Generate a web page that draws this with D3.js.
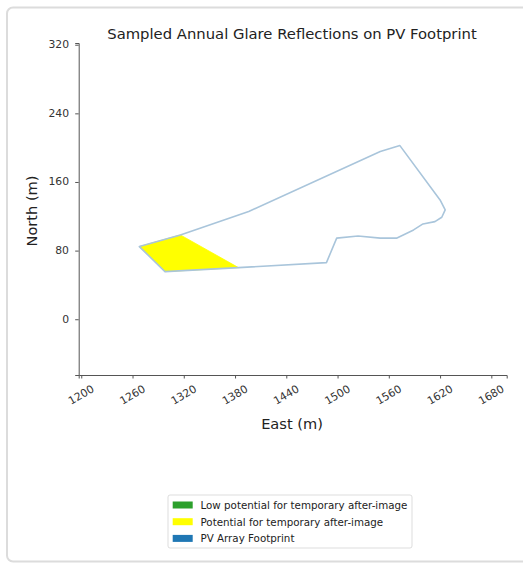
<!DOCTYPE html>
<html><head><meta charset="utf-8">
<script src="https://cdn.jsdelivr.net/npm/d3@7"></script>
<style>body{margin:0;background:#fff;font-family:"DejaVu Sans",sans-serif;}</style>
</head><body>
<svg id="c" width="523" height="563"></svg>
<script>
const footprintEast  = [1268,1316,1396,1550,1573,1620,1626,1622,1614,1600,1589,1569,1550,1524,1499,1487,1384,1298];
const footprintNorth = [84.7,98.3,125.5,195.5,202.4,139.1,127.5,118.9,113.8,111.1,104.1,94.5,94.5,97.1,94.5,66,60.2,55.5];
const glareEast  = [1268,1316,1384,1298];
const glareNorth = [84.7,98.3,60.2,55.5];
const xTicks = [1200,1260,1320,1380,1440,1500,1560,1620,1680];
const yTicks = [0,80,160,240,320];
const legendLabels = ["Low potential for temporary after-image","Potential for temporary after-image","PV Array Footprint"];
const legendColors = ["#2ca02c","#ffff00","#1f77b4"];

const svg = d3.select("#c");
svg.append("rect").attr("x",7).attr("y",7.5).attr("width",540).attr("height",554)
  .attr("rx",6).attr("fill","#fff").attr("stroke","#dcdcdc").attr("stroke-width",2);

const x = d3.scaleLinear().domain([1197,1698]).range([78.7,506.7]);
const y = d3.scaleLinear().domain([-65,322]).range([375,43]);

const line = d3.line().x(d=>x(d[0])).y(d=>y(d[1]));
const glare = glareEast.map((e,i)=>[e,glareNorth[i]]);
svg.append("path").attr("d",line(glare)+"Z").attr("fill","#ffff00").attr("stroke","#ffff00").attr("stroke-width",0.8);
const fp = footprintEast.map((e,i)=>[e,footprintNorth[i]]);
svg.append("path").attr("d",line(fp)+"Z").attr("fill","none").attr("stroke","#a9c5db").attr("stroke-width",1.6).attr("stroke-linejoin","round");

const gx = svg.append("g").attr("transform","translate(0,375)")
  .call(d3.axisBottom(x).tickValues(xTicks).tickSize(3.5).tickFormat(""));
const gy = svg.append("g").attr("transform","translate(78.7,0)")
  .call(d3.axisLeft(y).tickValues(yTicks).tickSize(3.5).tickFormat(""));
[gx,gy].forEach(g=>{g.select(".domain").attr("stroke","#555").attr("stroke-width",1);g.selectAll(".tick line").attr("stroke","#555");});

svg.append("g").selectAll("text").data(xTicks).join("text")
  .attr("transform",d=>`translate(${x(d)},395) rotate(-30)`)
  .attr("text-anchor","middle").attr("dominant-baseline","central")
  .attr("font-size",10.8).attr("fill","#333").text(d=>d);
svg.append("g").selectAll("text").data(yTicks).join("text")
  .attr("x",69).attr("y",d=>y(d)).attr("text-anchor","end").attr("dominant-baseline","central")
  .attr("font-size",10.8).attr("fill","#333").text(d=>d);

svg.append("text").attr("x",292).attr("y",33).attr("text-anchor","middle").attr("dominant-baseline","central")
  .attr("font-size",14.8).attr("fill","#222").text("Sampled Annual Glare Reflections on PV Footprint");
svg.append("text").attr("x",292).attr("y",423).attr("text-anchor","middle").attr("dominant-baseline","central")
  .attr("font-size",14.6).attr("fill","#222").text("East (m)");
svg.append("text").attr("transform","translate(31.5,211) rotate(-90)").attr("text-anchor","middle").attr("dominant-baseline","central")
  .attr("font-size",14.6).attr("fill","#222").text("North (m)");

const lg = svg.append("g");
lg.append("rect").attr("x",168).attr("y",495).attr("width",244).attr("height",53).attr("rx",2)
  .attr("fill","#fff").attr("stroke","#d4d4d4").attr("stroke-width",0.8);
legendLabels.forEach((t,i)=>{
  const yy = 505 + i*16.7;
  lg.append("rect").attr("x",172.7).attr("y",yy-3.5).attr("width",20).attr("height",7).attr("fill",legendColors[i]);
  lg.append("text").attr("x",200.5).attr("y",yy).attr("dominant-baseline","central").attr("font-size",10.3).attr("fill","#222").text(t);
});
</script>
</body></html>
